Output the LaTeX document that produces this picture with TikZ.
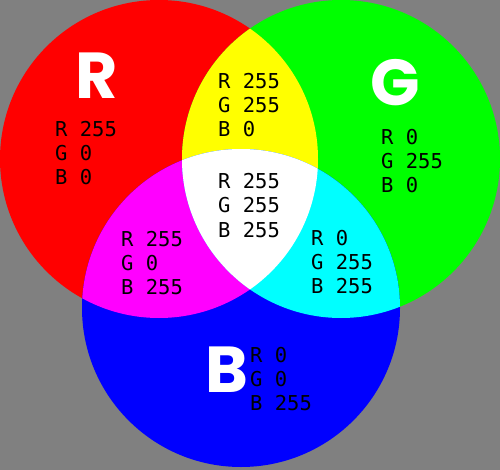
\documentclass[tikz,border=0pt]{standalone}
\usepackage{fontspec}
\newfontfamily\monofnt{DejaVu Sans Mono}
\newfontfamily\bigfnt{Poppins}
\definecolor{bggray}{HTML}{808080}
\definecolor{cR}{HTML}{FF0000}
\definecolor{cG}{HTML}{00FF00}
\definecolor{cB}{HTML}{0000FF}
\definecolor{cY}{HTML}{FFFF00}
\definecolor{cC}{HTML}{00FFFF}
\definecolor{cM}{HTML}{FF00FF}
\tikzset{
  val/.style={anchor=base west, inner sep=0pt, font=\monofnt\fontsize{20.5}{24}\selectfont, text=black},
  big/.style={anchor=base west, inner sep=0pt, font=\bigfnt\bfseries\fontsize{65}{65}\selectfont, text=white}
}
\newcommand{\rgbblock}[6]{%
  \node[val] (#1r) at (#2,-#3) {R #4};
  \node[val] (#1g) at (#2,-#3-24) {G #5};
  \node[val] (#1b) at (#2,-#3-48) {B #6};
}
\begin{document}
\begin{tikzpicture}[x=1pt,y=1pt]
\fill[bggray] (0,0) rectangle (500,-470);
\useasboundingbox (0,0) rectangle (500,-470);
% circles
\coordinate (rc) at (159,-159);
\coordinate (gc) at (341,-159);
\coordinate (bc) at (241,-308);
\fill[cR] (rc) circle (159);
\fill[cG] (gc) circle (159);
\fill[cB] (bc) circle (159);
\begin{scope}
  \clip (rc) circle (159);
  \fill[cY] (gc) circle (159);
  \fill[cM] (bc) circle (159);
\end{scope}
\begin{scope}
  \clip (gc) circle (159);
  \fill[cC] (bc) circle (159);
\end{scope}
\begin{scope}
  \clip (rc) circle (159);
  \clip (gc) circle (159);
  \fill[white] (bc) circle (159);
\end{scope}
% big letters
\node[big] (bigR) at (75,-99) {R};
\node[big] (bigG) at (370,-106) {G};
\node[big] (bigB) at (205,-392) {B};
% values
\rgbblock{red}{55}{137}{255}{0}{0}
\rgbblock{yel}{218}{89}{255}{255}{0}
\rgbblock{wht}{218}{189}{255}{255}{255}
\rgbblock{grn}{381}{145}{0}{255}{0}
\rgbblock{mag}{121}{246}{255}{0}{255}
\rgbblock{cyn}{311}{245}{0}{255}{255}
\rgbblock{blu}{250}{362}{0}{0}{255}
\end{tikzpicture}
\end{document}
